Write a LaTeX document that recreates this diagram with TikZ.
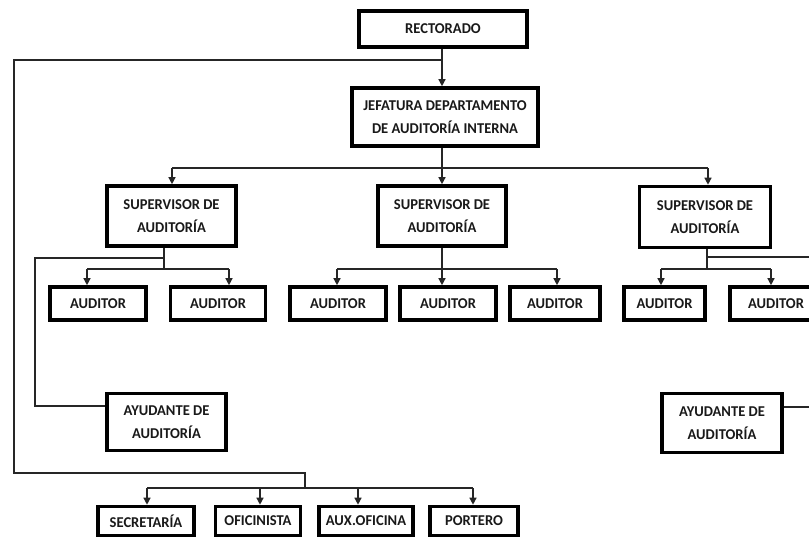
\documentclass[tikz,border=0pt]{standalone}
\usepackage{fontspec}
\setmainfont{Carlito}[FakeStretch=0.97]
\usetikzlibrary{arrows.meta}
\tikzset{
  box/.style={draw=black, line width=3.6pt, fill=white, align=center, inner sep=0pt,
    font=\fontsize{15}{23}\selectfont\bfseries, text=black!90},
  conn/.style={draw=black!85, line width=1.3pt},
  arr/.style={conn, -{Triangle[width=7pt,length=7pt]}},
}
\begin{document}
\begin{tikzpicture}[x=1pt,y=-1pt]
\useasboundingbox (0,0) rectangle (809,538);
\clip (0,0) rectangle (809,538);
% nodes
\node[box, minimum width=168, minimum height=36] (rect) at (443,29) {RECTORADO};
\node[box, minimum width=186, minimum height=58] (jef) at (445,117) {JEFATURA DEPARTAMENTO\\DE AUDITORÍA INTERNA};
\node[box, minimum width=129, minimum height=60] (sup1) at (171.5,216) {SUPERVISOR DE\\AUDITORÍA};
\node[box, minimum width=128, minimum height=60] (sup2) at (442,216) {SUPERVISOR DE\\AUDITORÍA};
\node[box, minimum width=131, minimum height=61] (sup3) at (705,217) {SUPERVISOR DE\\AUDITORÍA};
\node[box, minimum width=96, minimum height=33] (a1) at (98,303.5) {AUDITOR};
\node[box, minimum width=95, minimum height=33] (a2) at (218,303.5) {AUDITOR};
\node[box, minimum width=96, minimum height=33] (a3) at (338,303.5) {AUDITOR};
\node[box, minimum width=96, minimum height=33] (a4) at (448,303.5) {AUDITOR};
\node[box, minimum width=90, minimum height=33] (a5) at (555,303.5) {AUDITOR};
\node[box, minimum width=81, minimum height=33] (a6) at (664.5,303.5) {AUDITOR};
\node[box, minimum width=92, minimum height=33] (a7) at (776,303.5) {AUDITOR};
\node[box, minimum width=119, minimum height=57] (ay1) at (166.5,422) {AYUDANTE DE\\AUDITORÍA};
\node[box, minimum width=120, minimum height=59] (ay2) at (722,423) {AYUDANTE DE\\AUDITORÍA};
\node[box, minimum width=96, minimum height=29] (sec) at (146,521) {SECRETARÍA};
\node[box, minimum width=85, minimum height=29] (ofi) at (258,521) {OFICINISTA};
\node[box, minimum width=94, minimum height=29] (aux) at (366,521) {AUX.OFICINA};
\node[box, minimum width=88, minimum height=29] (por) at (474,521) {PORTERO};
% coordinates
\coordinate (r1) at (442,60);
\coordinate (l1) at (14,60);
\coordinate (l2) at (14,473);
\coordinate (l3) at (305,473);
\coordinate (l4) at (305,488);
\coordinate (bl) at (147,488);
\coordinate (b2) at (260,488);
\coordinate (b3) at (358,488);
\coordinate (br) at (473,488);
\coordinate (j1) at (442,168);
\coordinate (jl) at (172,168);
\coordinate (jr) at (708,168);
\coordinate (s1) at (164,269);
\coordinate (s1a) at (87,269);
\coordinate (s1b) at (229,269);
\coordinate (s1c) at (164,258);
\coordinate (s1d) at (35,258);
\coordinate (s1e) at (35,406);
\coordinate (s2) at (442,269);
\coordinate (s2a) at (337,269);
\coordinate (s2c) at (557,269);
\coordinate (s3) at (707,269);
\coordinate (s3a) at (661,269);
\coordinate (s3b) at (771,269);
\coordinate (s3c) at (707,257);
\coordinate (s3d) at (815,257);
\coordinate (ay2e) at (815,407);
% connectors
\draw[arr] (rect.south -| r1) -- (jef.north -| r1);
\draw[conn] (r1) -- (l1) -- (l2) -- (l3) -- (l4);
\draw[conn] (bl) -- (br);
\draw[arr] (bl) -- (bl |- sec.north);
\draw[arr] (b2) -- (b2 |- ofi.north);
\draw[arr] (b3) -- (b3 |- aux.north);
\draw[arr] (br) -- (br |- por.north);
\draw[conn] (jef.south -| j1) -- (j1);
\draw[conn] (jl) -- (jr);
\draw[arr] (jl) -- (jl |- sup1.north);
\draw[arr] (j1) -- (j1 |- sup2.north);
\draw[arr] (jr) -- (jr |- sup3.north);
\draw[conn] (sup1.south -| s1) -- (s1);
\draw[conn] (s1a) -- (s1b);
\draw[arr] (s1a) -- (s1a |- a1.north);
\draw[arr] (s1b) -- (s1b |- a2.north);
\draw[conn] (s1c) -- (s1d) -- (s1e) -- (ay1.west |- s1e);
\draw[conn] (sup2.south -| s2) -- (s2);
\draw[conn] (s2a) -- (s2c);
\draw[arr] (s2a) -- (s2a |- a3.north);
\draw[arr] (s2) -- (s2 |- a4.north);
\draw[arr] (s2c) -- (s2c |- a5.north);
\draw[conn] (sup3.south -| s3) -- (s3);
\draw[conn] (s3a) -- (s3b);
\draw[arr] (s3a) -- (s3a |- a6.north);
\draw[arr] (s3b) -- (s3b |- a7.north);
\draw[conn] (s3c) -- (s3d);
\draw[conn] (ay2.east |- ay2e) -- (ay2e);
\end{tikzpicture}
\end{document}
